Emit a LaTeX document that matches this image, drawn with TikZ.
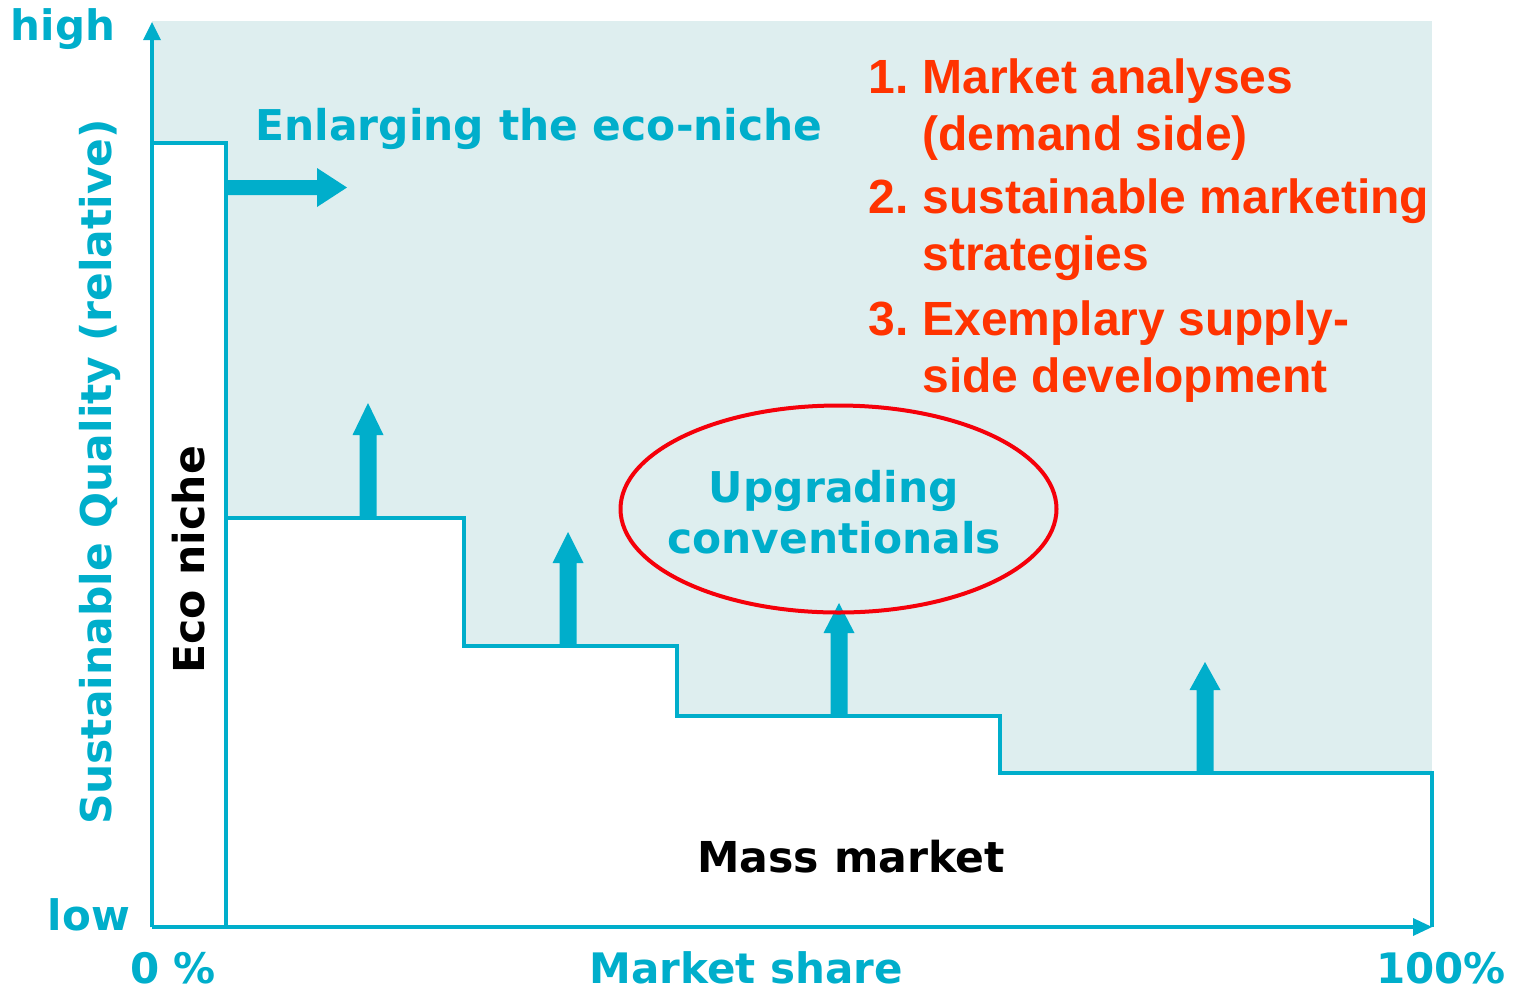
\documentclass[tikz,border=0pt]{standalone}
\usepackage{fontspec}
\usetikzlibrary{shapes.geometric}
\newfontfamily\dvs{DejaVu Sans}
\newfontfamily\libs{Liberation Sans}
\definecolor{tl}{RGB}{0,174,203}
\definecolor{bgc}{RGB}{222,238,239}
\definecolor{rtx}{RGB}{255,51,0}
\definecolor{ell}{RGB}{245,0,10}
\tikzset{
  axisline/.style={draw=tl, line width=2pt},
  stepline/.style={draw=tl, line width=2pt, fill=white, line join=miter},
  tealtxt/.style={text=tl, font=\dvs\bfseries\fontsize{21.2}{25}\selectfont, inner sep=0pt},
  axtxt/.style={text=tl, font=\dvs\bfseries\fontsize{21}{25}\selectfont, inner sep=0pt},
  blacktxt/.style={text=black, font=\dvs\bfseries\fontsize{21.3}{25}\selectfont, inner sep=0pt},
  redtxt/.style={text=rtx, font=\libs\bfseries\fontsize{24}{28}\selectfont, inner sep=0pt, anchor=base west},
  uparr/.pic={\fill[tl] (-8.5,0) -- (-8.5,-83) -- (-15.5,-83) -- (0,-#1) -- (15.5,-83) -- (8.5,-83) -- (8.5,0) -- cycle;},
}
\begin{document}
\begin{tikzpicture}[x=0.5pt,y=-0.5pt]
\useasboundingbox (0,0) rectangle (1526,992);
% background
\fill[bgc] (152,21) rectangle (1432,927);
% eco niche rectangle and mass market steps
\path[stepline] (152,927) -- (152,143) -- (226,143) -- (226,927);
\path[stepline] (226,927) -- (226,518) -- (464,518) -- (464,646) -- (677,646) -- (677,716) -- (1000,716) -- (1000,773) -- (1432,773) -- (1432,927);
% axes
\coordinate (o) at (152,927);
\coordinate (ytip) at (152,22);
\coordinate (xtip) at (1432,927);
\draw[axisline] (o) -- (152,38);
\draw[axisline] (o) -- (1415,927);
\fill[tl] (ytip) -- (143,40) -- (161,40) -- cycle;
\fill[tl] (xtip) -- (1413,918) -- (1413,936) -- cycle;
% enlarging arrow
\fill[tl] (226,180) -- (317,180) -- (317,168) -- (347,187.5) -- (317,207) -- (317,195) -- (226,195) -- cycle;
% up arrows
\pic at (368,518) {uparr=115};
\pic at (568,646) {uparr=114};
\pic at (839,716) {uparr=113};
\pic at (1205,773) {uparr=111};
% ellipse
\node[draw=ell, line width=2pt, ellipse, minimum width=218pt, minimum height=103.5pt, inner sep=0pt] (ell) at (838.5,509) {};
% texts
\node[axtxt, anchor=base] (high) at (63,40) {high};
\node[axtxt, anchor=base] (low) at (89,930) {low};
\node[axtxt, anchor=base] (zero) at (173,983) {0 \%};
\node[axtxt, anchor=base] (ms) at (746,983) {Market share};
\node[axtxt, anchor=base] (hund) at (1441,983) {100\%};
\node[tealtxt, rotate=90] (sq) at (100,472) {Sustainable Quality (relative)};
\node[blacktxt, rotate=90, anchor=base] (eco) at (204,560) {Eco niche};
\node[tealtxt, anchor=base] (enl) at (539,140) {Enlarging the eco-niche};
\node[blacktxt, anchor=base] (mass) at (851,872) {Mass market};
\node[tealtxt, anchor=base] (up1) at (834,502) {Upgrading};
\node[tealtxt, anchor=base] (up2) at (834,553) {conventionals};
\node[redtxt] (n1) at (868,93) {1.};
\node[redtxt] (t1a) at (922,93) {Market analyses};
\node[redtxt] (t1b) at (922,150) {(demand side)};
\node[redtxt] (n2) at (868,213) {2.};
\node[redtxt] (t2a) at (922,213) {sustainable marketing};
\node[redtxt] (t2b) at (922,270) {strategies};
\node[redtxt] (n3) at (868,335) {3.};
\node[redtxt] (t3a) at (922,335) {Exemplary supply-};
\node[redtxt] (t3b) at (922,392) {side development};
\end{tikzpicture}
\end{document}
